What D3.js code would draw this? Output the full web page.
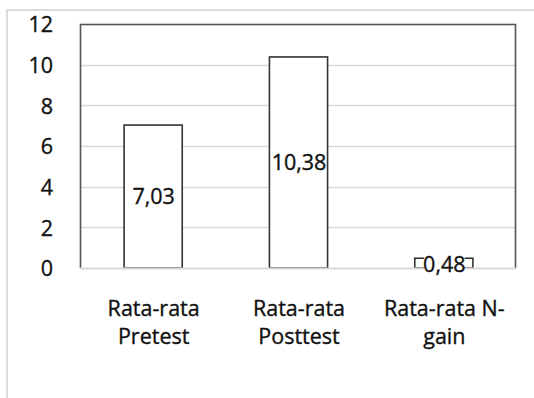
<!DOCTYPE html>
<html>
<head>
<meta charset="utf-8">
<script src="https://cdn.jsdelivr.net/npm/d3@7"></script>
<style>
  html, body { margin: 0; padding: 0; background: #fff; }
  svg { display: block; }
  text { font-family: "Open Sans", sans-serif; fill: #111; stroke: #111; stroke-width: 0.35px; }
</style>
</head>
<body>
<svg id="chart" width="534" height="398"></svg>
<script>
const categories = [["Rata-rata", "Pretest"], ["Rata-rata", "Posttest"], ["Rata-rata N-", "gain"]];
const values = [7.03, 10.38, 0.48];
const valueLabels = ["7,03", "10,38", "0,48"];
const yTicks = [0, 2, 4, 6, 8, 10, 12];

const FONT = "Open Sans";
const FS = 21.5;

const svg = d3.select("#chart");
const W = 534, H = 398;
const plot = { left: 80, top: 24, right: 516, bottom: 268 };

// outer frame
svg.append("rect")
  .attr("x", 7).attr("y", 10)
  .attr("width", W + 10).attr("height", H + 10)
  .attr("fill", "#fff").attr("stroke", "#dcdcdc").attr("stroke-width", 2);

const x = d3.scaleBand()
  .domain(d3.range(categories.length))
  .range([plot.left, plot.right])
  .paddingInner(0.6).paddingOuter(0.3);

const y = d3.scaleLinear().domain([0, 12]).range([plot.bottom, plot.top]);

// gridlines (except baseline, drawn later)
svg.append("g").selectAll("line").data(yTicks.filter(d => d !== 0)).join("line")
  .attr("x1", plot.left).attr("x2", plot.right)
  .attr("y1", d => Math.round(y(d)) + 0.5).attr("y2", d => Math.round(y(d)) + 0.5)
  .attr("stroke", "#d9d9d9").attr("stroke-width", 1.5);

// plot border (left, top, right)
svg.append("path")
  .attr("d", `M${plot.left + 0.5},${plot.bottom}V${plot.top + 0.5}H${plot.right - 0.5}V${plot.bottom}`)
  .attr("fill", "none").attr("stroke", "#555").attr("stroke-width", 1.6);

// y axis labels
const yAxis = d3.axisLeft(y).tickValues(yTicks).tickSize(0).tickPadding(27);
const ga = svg.append("g").attr("transform", `translate(${plot.left},0)`).call(yAxis);
ga.select(".domain").remove();
ga.selectAll("text").attr("font-size", FS).attr("font-family", FONT).attr("fill", "#111").attr("dy", "0.36em");

// bars
svg.append("g").selectAll("rect").data(values).join("rect")
  .attr("x", (d, i) => x(i) + 0.5)
  .attr("y", d => y(d))
  .attr("width", x.bandwidth())
  .attr("height", d => y(0) - y(d))
  .attr("fill", "#fff").attr("stroke", "#333").attr("stroke-width", 1.6);

// baseline drawn over bar bottoms
svg.append("line")
  .attr("x1", plot.left).attr("x2", plot.right)
  .attr("y1", Math.round(y(0)) + 0.5).attr("y2", Math.round(y(0)) + 0.5)
  .attr("stroke", "#d9d9d9").attr("stroke-width", 1.8);

// value labels
const lbl = svg.append("g").selectAll("g").data(values).join("g")
  .attr("transform", (d, i) => `translate(${x(i) + x.bandwidth() / 2 + 1},${(y(d) + y(0)) / 2 + (i === 2 ? 1 : 0)})`);
lbl.each(function (d, i) {
  const g = d3.select(this);
  const t = g.append("text")
    .attr("text-anchor", "middle").attr("dy", "0.36em")
    .attr("font-size", FS).text(valueLabels[i]);
  if (i === 2) {
    const bb = t.node().getBBox();
    g.insert("rect", "text")
      .attr("x", bb.x + 1).attr("y", bb.y + 6)
      .attr("width", bb.width - 2).attr("height", bb.height - 6)
      .attr("fill", "#fff");
  }
});

// category labels
const cl = svg.append("g").selectAll("text").data(categories).join("text")
  .attr("text-anchor", "middle")
  .attr("font-size", FS)
  .attr("x", (d, i) => x(i) + x.bandwidth() / 2 + 1)
  .attr("y", 316);
cl.selectAll("tspan").data(d => d).join("tspan")
  .attr("x", function () { return this.parentNode.getAttribute("x"); })
  .attr("dy", (d, j) => j === 0 ? 0 : 28)
  .text(d => d);
</script>
</body>
</html>
